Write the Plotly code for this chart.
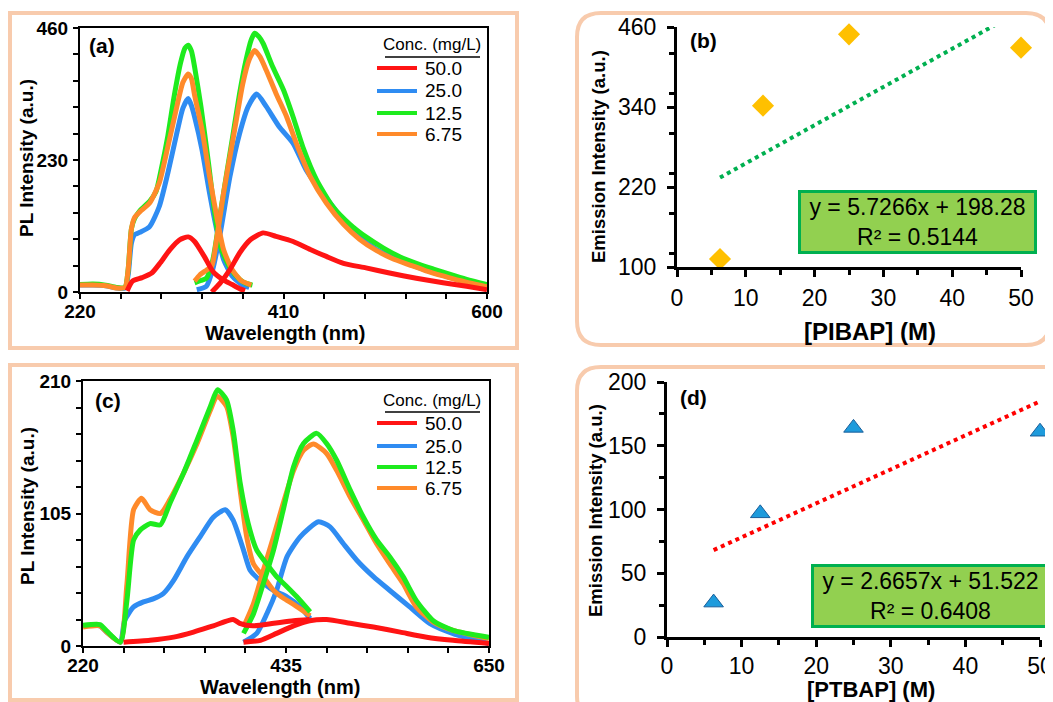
import plotly.graph_objects as go

W, H = 1053, 702
OFF = 8  # page body margin offset of the figure

# ---------------- data ----------------
conc_labels = ["50.0", "25.0", "12.5", "6.75"]

# Panel (a): PIBAP excitation / emission spectra
a_ex_red_wl = [264, 269, 278, 287, 295, 304, 313, 321, 327, 336, 344, 353, 362, 370, 374]
a_ex_red_I = [2, 19, 25, 33, 51, 74, 91, 96, 88, 62, 36, 22, 13, 5, 2]
a_ex_blue_wl = [220, 232, 244, 254, 262, 265, 268, 271, 276, 285, 294, 302, 311, 316, 321, 324, 327, 334, 341, 347, 354, 362, 371, 378]
a_ex_blue_I = [12, 12, 11, 7, 7, 30, 85, 100, 104, 114, 149, 207, 282, 320, 337, 325, 305, 247, 172, 114, 57, 28, 13, 8]
a_ex_green_wl = [220, 232, 244, 254, 262, 265, 268, 271, 276, 285, 291, 296, 302, 308, 314, 318, 321, 324, 327, 333, 340, 345, 351, 360, 369, 375, 381]
a_ex_green_I = [13, 14, 12, 8, 8, 40, 110, 128, 142, 158, 175, 215, 272, 342, 400, 425, 430, 420, 392, 322, 224, 149, 80, 42, 22, 15, 12]
a_ex_orange_wl = [220, 232, 244, 254, 262, 265, 268, 271, 276, 285, 294, 302, 311, 316, 321, 324, 327, 334, 341, 347, 354, 362, 371, 380]
a_ex_orange_I = [12, 12, 11, 7, 8, 40, 110, 130, 140, 155, 190, 253, 328, 365, 380, 372, 343, 282, 201, 138, 74, 39, 19, 12]

a_em_red_wl = [343, 351, 360, 369, 379, 391, 403, 419, 435, 450, 466, 487, 509, 534, 559, 581, 600]
a_em_red_I = [0, 16, 39, 68, 91, 103, 97, 88, 74, 62, 50, 42, 33, 24, 16, 10, 4]
a_em_blue_wl = [329, 338, 344, 351, 360, 369, 377, 385, 394, 406, 419, 431, 444, 456, 466, 481, 497, 512, 528, 543, 559, 574, 600]
a_em_blue_I = [4, 10, 40, 103, 201, 276, 323, 345, 323, 288, 259, 213, 178, 149, 124, 95, 74, 60, 48, 38, 29, 21, 10]
a_em_green_wl = [327, 333, 338, 344, 351, 357, 363, 369, 375, 380, 383, 387, 391, 400, 410, 419, 428, 441, 456, 472, 487, 503, 518, 534, 550, 565, 581, 600]
a_em_green_I = [16, 20, 24, 56, 137, 207, 276, 346, 404, 440, 451, 445, 433, 392, 352, 305, 253, 195, 149, 118, 96, 77, 62, 50, 40, 31, 22, 13]
a_em_orange_wl = [327, 332, 338, 343, 347, 354, 360, 366, 372, 378, 383, 388, 394, 403, 413, 422, 435, 450, 466, 481, 497, 512, 528, 543, 559, 574, 600]
a_em_orange_I = [19, 30, 38, 45, 85, 172, 236, 300, 363, 405, 421, 410, 386, 346, 305, 259, 201, 155, 118, 92, 72, 58, 47, 37, 28, 20, 9]

# Panel (c): PTBAP excitation / emission spectra
c_ex_red_wl = [263, 291, 316, 337, 358, 379, 386, 400, 422, 443, 460]
c_ex_red_I = [3, 4.5, 7, 11, 16, 21, 18, 16, 18, 20, 21]
c_ex_blue_wl = [220, 238, 245, 259.5, 264, 273.6, 284, 295, 305, 316, 330, 344, 358, 370.6, 379, 390, 397, 407.7, 421.8, 436, 450, 460.6]
c_ex_blue_I = [16, 16, 11, 3, 20, 31, 35, 37.5, 41.5, 52, 70.6, 86.5, 102, 108, 99.7, 76, 60, 52, 44, 39, 31, 21.7]
c_ex_green_wl = [220, 238, 245, 259.5, 266.5, 273.6, 280.7, 291, 302, 312, 326.5, 340.6, 355, 362.5, 372, 379, 386.5, 395, 404, 414.7, 425, 436, 446.5, 460.6]
c_ex_green_I = [16.4, 17, 12, 3, 36, 84, 92, 97, 96, 113, 137, 163, 190, 203, 195, 171, 129, 97, 76, 65, 55, 47, 39, 27]
c_ex_orange_wl = [220, 238, 245, 259.5, 266.5, 273.6, 282, 291, 302, 312, 326.5, 340.6, 355, 362, 372, 379, 386.5, 393.5, 400.6, 411, 422, 432, 443, 460.6]
c_ex_orange_I = [15, 16, 11, 3, 49, 108, 117, 108, 105, 116, 137, 160, 187, 198, 190, 166, 123, 86, 65, 55, 44, 38, 33, 24]

c_em_red_wl = [390, 408, 425, 443, 460, 478, 503, 527.6, 556, 584, 612, 650]
c_em_red_I = [3, 4.5, 10, 16, 20, 21, 18, 15, 11, 7, 4.5, 2]
c_em_blue_wl = [390, 404, 414.7, 425, 436, 450, 469.4, 481.7, 495.8, 510, 527.6, 545, 566, 587.5, 612, 650]
c_em_blue_I = [3, 10, 25.6, 44, 70.6, 86.5, 98.4, 94.4, 81, 68, 55, 44, 31, 17.7, 9.8, 2]
c_em_green_wl = [390, 400.6, 411, 421.8, 432, 443, 453.5, 467.6, 478, 488.8, 503, 517, 531, 545, 559, 573, 591, 612, 650]
c_em_green_I = [10, 25.6, 49.5, 76, 107.6, 142, 160.5, 168.5, 160.5, 147, 123.5, 102, 84, 70.6, 55, 36, 20, 12.4, 7]
c_em_orange_wl = [390, 400.6, 411, 421.8, 432, 443, 453.5, 464, 478, 488.8, 503, 517, 531, 545, 559, 573, 591, 612, 650]
c_em_orange_I = [15, 33.6, 60, 86.5, 113, 139, 155, 160, 152.6, 139, 118, 99.7, 81, 65, 49.5, 31, 19, 12.4, 5.8]

# Panels (b), (d): emission intensity vs concentration
conc_M = [6.25, 12.5, 25, 50]
pibap_intensity = [112, 342, 449, 429]
ptbap_intensity = [27, 97, 164, 161]
pibap_slope, pibap_intercept, pibap_r2 = 5.7266, 198.28, 0.5144
ptbap_slope, ptbap_intercept, ptbap_r2 = 2.6657, 51.522, 0.6408

# tick values / labels
a_xticks = [220, 258, 296, 334, 372, 410, 448, 486, 524, 562, 600]
a_xlabels = ["220", "", "", "", "", "410", "", "", "", "", "600"]
a_yticks = [0, 46, 92, 138, 184, 230, 276, 322, 368, 414, 460]
a_ylabels = ["0", "", "", "", "", "230", "", "", "", "", "460"]
c_xticks = [220, 263, 306, 349, 392, 435, 478, 521, 564, 607, 650]
c_xlabels = ["220", "", "", "", "", "435", "", "", "", "", "650"]
c_yticks = [0, 21, 42, 63, 84, 105, 126, 147, 168, 189, 210]
c_ylabels = ["0", "", "", "", "", "105", "", "", "", "", "210"]

# ---------------- styles ----------------
RED, BLUE, GREEN, ORANGE = "#FF1414", "#2F8CF2", "#1EEB1E", "#FF8A2A"
FRAME = "#F8CBAD"
FONT = "Arial, Liberation Sans, sans-serif"


def px(x):
    return (x - OFF) / W


def py(y):
    return 1 - (y - OFF) / H


fig = go.Figure()


def spec(x, y, color, xa, ya):
    fig.add_trace(go.Scatter(x=x, y=y, mode="lines", xaxis=xa, yaxis=ya, showlegend=False,
                             line=dict(color=color, width=5, shape="spline", smoothing=0.6),
                             hoverinfo="skip"))


# panel (a)
for xx, yy, col in [(a_ex_blue_wl, a_ex_blue_I, BLUE), (a_em_blue_wl, a_em_blue_I, BLUE),
                    (a_ex_green_wl, a_ex_green_I, GREEN), (a_em_green_wl, a_em_green_I, GREEN),
                    (a_ex_orange_wl, a_ex_orange_I, ORANGE), (a_em_orange_wl, a_em_orange_I, ORANGE),
                    (a_ex_red_wl, a_ex_red_I, RED), (a_em_red_wl, a_em_red_I, RED)]:
    spec(xx, yy, col, "x", "y")

# panel (c)
for xx, yy, col in [(c_ex_blue_wl, c_ex_blue_I, BLUE), (c_em_blue_wl, c_em_blue_I, BLUE),
                    (c_ex_orange_wl, c_ex_orange_I, ORANGE), (c_em_orange_wl, c_em_orange_I, ORANGE),
                    (c_ex_green_wl, c_ex_green_I, GREEN), (c_em_green_wl, c_em_green_I, GREEN),
                    (c_ex_red_wl, c_ex_red_I, RED), (c_em_red_wl, c_em_red_I, RED)]:
    spec(xx, yy, col, "x3", "y3")

# panel (b)
tx = [conc_M[0], conc_M[-1]]
fig.add_trace(go.Scatter(x=tx, y=[pibap_slope * v + pibap_intercept for v in tx], mode="lines",
                         xaxis="x2", yaxis="y2", showlegend=False,
                         line=dict(color="#00B050", width=4, dash="dot")))
fig.add_trace(go.Scatter(x=conc_M, y=pibap_intensity, mode="markers", xaxis="x2", yaxis="y2",
                         showlegend=False, cliponaxis=False,
                         marker=dict(symbol="diamond", size=17, color="#FFC000")))
# panel (d)
fig.add_trace(go.Scatter(x=tx, y=[ptbap_slope * v + ptbap_intercept for v in tx], mode="lines",
                         xaxis="x4", yaxis="y4", showlegend=False,
                         line=dict(color="#FF0000", width=4, dash="dot")))
fig.add_trace(go.Scatter(x=conc_M, y=ptbap_intensity, mode="markers", xaxis="x4", yaxis="y4",
                         showlegend=False, cliponaxis=False,
                         marker=dict(symbol="triangle-up", size=17, color="#1E9BDC",
                                     line=dict(color="#1A5E9A", width=1))))


def spec_axes(dom_x, dom_y, xr, yr, xt, xl, yt, yl, xa, ya):
    tf = dict(family=FONT, size=19, color="black", weight="bold")
    xd = dict(domain=dom_x, anchor=ya, range=xr, showline=True, linecolor="black", linewidth=2,
              mirror=True, ticks="outside", ticklen=5, tickwidth=2, tickcolor="black",
              tickvals=xt, ticktext=xl, tickfont=tf, showgrid=False, zeroline=False,
              ticklabelstandoff=-4, automargin=False)
    yd = dict(domain=dom_y, anchor=xa, range=yr, showline=True, linecolor="black", linewidth=2,
              mirror=True, ticks="outside", ticklen=5, tickwidth=2, tickcolor="black",
              tickvals=yt, ticktext=yl, tickfont=tf, showgrid=False, zeroline=False,
              ticklabelstandoff=1, automargin=False)
    return xd, yd


def conc_axes(dom_x, dom_y, yr, ydt, ytick0, xa, ya, xstand):
    tf = dict(family=FONT, size=23, color="black")
    xd = dict(domain=dom_x, anchor=ya, range=[0, 50], showline=True, linecolor="black", linewidth=3,
              ticks="outside", ticklen=7, tickwidth=3, tickcolor="black", dtick=10, tick0=0,
              minor=dict(dtick=5, ticks="outside", ticklen=5, tickwidth=3, tickcolor="black"),
              tickfont=tf, showgrid=False, zeroline=False, ticklabelstandoff=xstand, automargin=False)
    yd = dict(domain=dom_y, anchor=xa, range=yr, showline=True, linecolor="black", linewidth=3,
              ticks="outside", ticklen=7, tickwidth=3, tickcolor="black", dtick=ydt, tick0=ytick0,
              minor=dict(dtick=ydt / 2, ticks="outside", ticklen=5, tickwidth=3, tickcolor="black"),
              tickfont=tf, showgrid=False, zeroline=False, ticklabelstandoff=6, automargin=False)
    return xd, yd


xa1, ya1 = spec_axes([px(80), px(487)], [py(292), py(28)], [220, 600], [0, 460],
                     a_xticks, a_xlabels, a_yticks, a_ylabels, "x", "y")
xa3, ya3 = spec_axes([px(83), px(489)], [py(646), py(381)], [220, 650], [0, 210],
                     c_xticks, c_xlabels, c_yticks, c_ylabels, "x3", "y3")
xa2, ya2 = conc_axes([px(677), px(1021)], [py(267), py(27)], [100, 460], 120, 100, "x2", "y2", 1)
xa4, ya4 = conc_axes([px(667), px(1040)], [py(637), py(382)], [0, 200], 50, 0, "x4", "y4", -1)

shapes = []
# panel frames
shapes.append(dict(type="rect", xref="paper", yref="paper", x0=px(10), x1=px(517), y0=py(348), y1=py(13),
                   line=dict(color=FRAME, width=4), layer="below"))
shapes.append(dict(type="rect", xref="paper", yref="paper", x0=px(10), x1=px(517), y0=py(700), y1=py(365),
                   line=dict(color=FRAME, width=4), layer="below"))


def rrect(x0, y0, x1, y1, r):
    def P(x, y):
        return f"{px(x):.5f},{py(y):.5f}"
    return (f"M {P(x0 + r, y0)} L {P(x1 - r, y0)} Q {P(x1, y0)} {P(x1, y0 + r)} "
            f"L {P(x1, y1 - r)} Q {P(x1, y1)} {P(x1 - r, y1)} L {P(x0 + r, y1)} "
            f"Q {P(x0, y1)} {P(x0, y1 - r)} L {P(x0, y0 + r)} Q {P(x0, y0)} {P(x0 + r, y0)} Z")


shapes.append(dict(type="path", xref="paper", yref="paper", path=rrect(577, 13, 1050, 345, 24),
                   line=dict(color=FRAME, width=4), layer="below"))
shapes.append(dict(type="path", xref="paper", yref="paper", path=rrect(577, 367, 1070, 720, 24),
                   line=dict(color=FRAME, width=4), layer="below"))

annotations = []
colors = [RED, BLUE, GREEN, ORANGE]


def legend(title_y, underline_y, rows_y):
    annotations.append(dict(text="Conc. (mg/L)", xref="paper", yref="paper", x=px(432), y=py(title_y),
                            xanchor="center", yanchor="middle", showarrow=False,
                            font=dict(family=FONT, size=17, color="black")))
    shapes.append(dict(type="line", xref="paper", yref="paper", x0=px(385), x1=px(480),
                       y0=py(underline_y), y1=py(underline_y), line=dict(color="black", width=1.5)))
    for lab, col, yy in zip(conc_labels, colors, rows_y):
        shapes.append(dict(type="line", xref="paper", yref="paper", x0=px(377), x1=px(417),
                           y0=py(yy), y1=py(yy), line=dict(color=col, width=4)))
        annotations.append(dict(text=lab, xref="paper", yref="paper", x=px(423), y=py(yy),
                                xanchor="left", yanchor="middle", showarrow=False,
                                font=dict(family=FONT, size=19, color="black")))


legend(45, 57, [68, 91, 113, 134])
legend(400, 412, [423, 446, 467, 488])


def txt(s, x, y, size, bold=True, angle=0, xanchor="center"):
    annotations.append(dict(text=s, xref="paper", yref="paper", x=px(x), y=py(y), xanchor=xanchor,
                            yanchor="middle", showarrow=False, textangle=angle,
                            font=dict(family=FONT, size=size, color="black",
                                      weight="bold" if bold else "normal")))


# panel labels
txt("(a)", 87, 46, 21, xanchor="left")
txt("(b)", 688, 40, 21, xanchor="left")
txt("(c)", 93, 400, 21, xanchor="left")
txt("(d)", 678, 397, 21, xanchor="left")
# axis titles
txt("PL Intensity (a.u.)", 26, 158, 19, angle=-90)
txt("Wavelength (nm)", 285, 333, 20)
txt("PL Intensity (a.u.)", 27, 506, 19, angle=-90)
txt("Wavelength (nm)", 280, 687, 20)
txt("Emission Intensity (a.u.)", 598, 157, 18.5, angle=-90)
txt("[PIBAP] (M)", 870, 331, 24)
txt("Emission Intensity (a.u.)", 595, 511, 18.5, angle=-90)
txt("[PTBAP] (M)", 871, 689, 22)

# regression equation boxes
for s, slope, icpt, r2, cx, cy in [("b", pibap_slope, pibap_intercept, pibap_r2, 917.5, 222),
                                    ("d", ptbap_slope, ptbap_intercept, ptbap_r2, 930.5, 595.5)]:
    annotations.append(dict(text=f"y = {slope:.4f}x + {icpt:g}<br>R² = {r2:.4f}",
                            xref="paper", yref="paper", x=px(cx), y=py(cy), xanchor="center",
                            yanchor="middle", showarrow=False, align="center",
                            width=233, height=58, bgcolor="#92D050", bordercolor="#00B050",
                            borderwidth=3, borderpad=0,
                            font=dict(family=FONT, size=23, color="black")))

fig.update_layout(
    width=W, height=H, autosize=False, margin=dict(l=0, r=0, t=0, b=0),
    paper_bgcolor="white", plot_bgcolor="rgba(0,0,0,0)",
    xaxis=xa1, yaxis=ya1, xaxis2=xa2, yaxis2=ya2, xaxis3=xa3, yaxis3=ya3, xaxis4=xa4, yaxis4=ya4,
    shapes=shapes, annotations=annotations, showlegend=False,
)

fig.write_html("out.html")
